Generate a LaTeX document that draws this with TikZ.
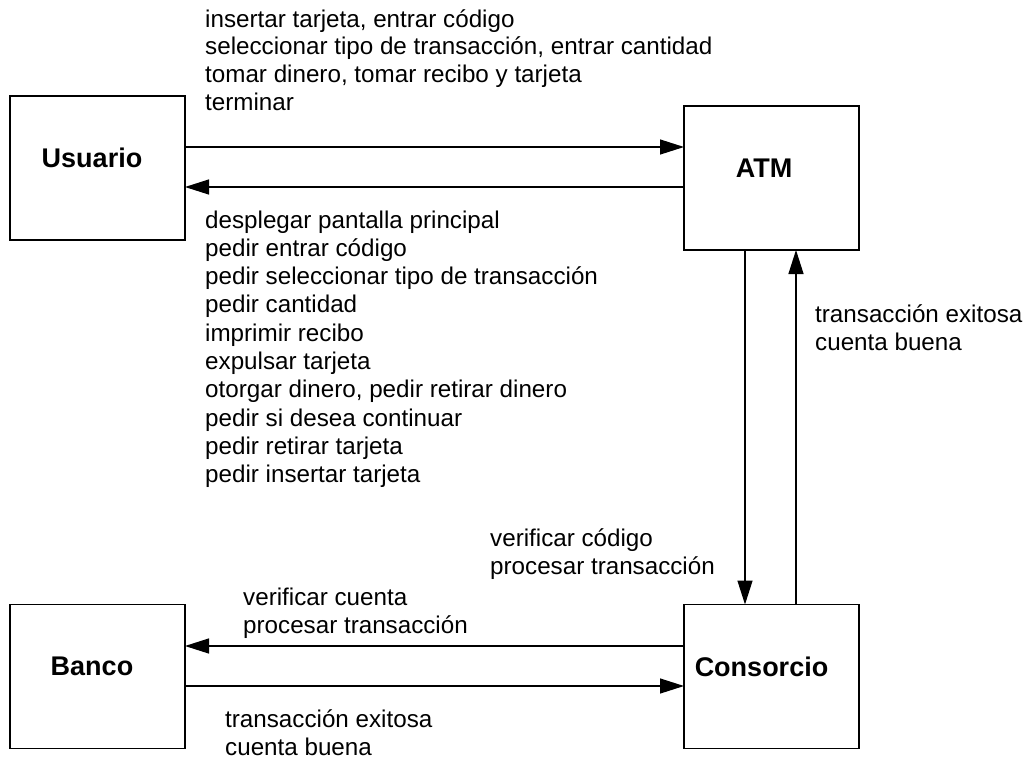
\documentclass[tikz,border=0pt]{standalone}
\usepackage{fontspec}
\setmainfont{Liberation Sans}
\usetikzlibrary{arrows.meta,calc}
\begin{document}
\begin{tikzpicture}[x=1pt,y=-1pt,
  box/.style={draw,line width=1.3pt,minimum width=175pt,minimum height=144pt,
    inner sep=0pt,outer sep=0pt},
  boxlabel/.style={font=\fontsize{27}{32}\selectfont\bfseries,anchor=base,inner sep=0pt},
  msg/.style={font=\fontsize{24.2}{28}\selectfont,anchor=base west,inner sep=0pt},
  flow/.style={line width=1.3pt,-{Triangle[length=24pt,width=15pt]}}]
\useasboundingbox (0,0) rectangle (1026,761);

% the four actors
\node[box] (usuario)   at (97.5,168)   {};
\node[box] (atm)       at (771.5,178)  {};
\node[box] (banco)     at (97.5,676.5) {};
\node[box] (consorcio) at (771.5,676.5){};

\node[boxlabel] (usuario-t)   at ($(usuario.center)+(-5.5,-1)$)     {Usuario};
\node[boxlabel] (atm-t)       at ($(atm.center)+(-7.5,-1)$)         {ATM};
\node[boxlabel] (banco-t)     at ($(banco.center)+(-5.5,-1.5)$)     {Banco};
\node[boxlabel] (consorcio-t) at ($(consorcio.center)+(-10,-0.5)$)  {Consorcio};

% message flows
\draw[flow] (usuario.east |- 0,147) -- (atm.west |- 0,147);
\draw[flow] (atm.west |- 0,187) -- (usuario.east |- 0,187);
\draw[flow] (atm.south -| 745,0) -- (consorcio.north -| 745,0);
\draw[flow] (consorcio.north -| 796,0) -- (atm.south -| 796,0);
\draw[flow] (consorcio.west |- 0,646) -- (banco.east |- 0,646);
\draw[flow] (banco.east |- 0,686) -- (consorcio.west |- 0,686);

% user requests
\foreach \t [count=\i from 0] in {{insertar tarjeta, entrar código},
    {seleccionar tipo de transacción, entrar cantidad},
    {tomar dinero, tomar recibo y tarjeta},
    {terminar}}
  \node[msg] (req-\i) at (205,{27+27.7*\i}) {\t};

% ATM responses
\foreach \t [count=\i from 0] in {{desplegar pantalla principal},
    {pedir entrar código},
    {pedir seleccionar tipo de transacción},
    {pedir cantidad},
    {imprimir recibo},
    {expulsar tarjeta},
    {otorgar dinero, pedir retirar dinero},
    {pedir si desea continuar},
    {pedir retirar tarjeta},
    {pedir insertar tarjeta}}
  \node[msg] (resp-\i) at (205,{228+28.3*\i}) {\t};

% consortium replies to ATM
\node[msg] (ok-1) at (815,322) {transacción exitosa};
\node[msg] (ok-2) at (815,350) {cuenta buena};

% ATM to consortium
\node[msg] (ver-1) at (490,546) {verificar código};
\node[msg] (ver-2) at (490,574) {procesar transacción};

% consortium to bank
\node[msg] (cb-1) at (243,605) {verificar cuenta};
\node[msg] (cb-2) at (243,633) {procesar transacción};

% bank to consortium
\node[msg] (bc-1) at (225,727) {transacción exitosa};
\node[msg] (bc-2) at (225,755) {cuenta buena};
\end{tikzpicture}
\end{document}
